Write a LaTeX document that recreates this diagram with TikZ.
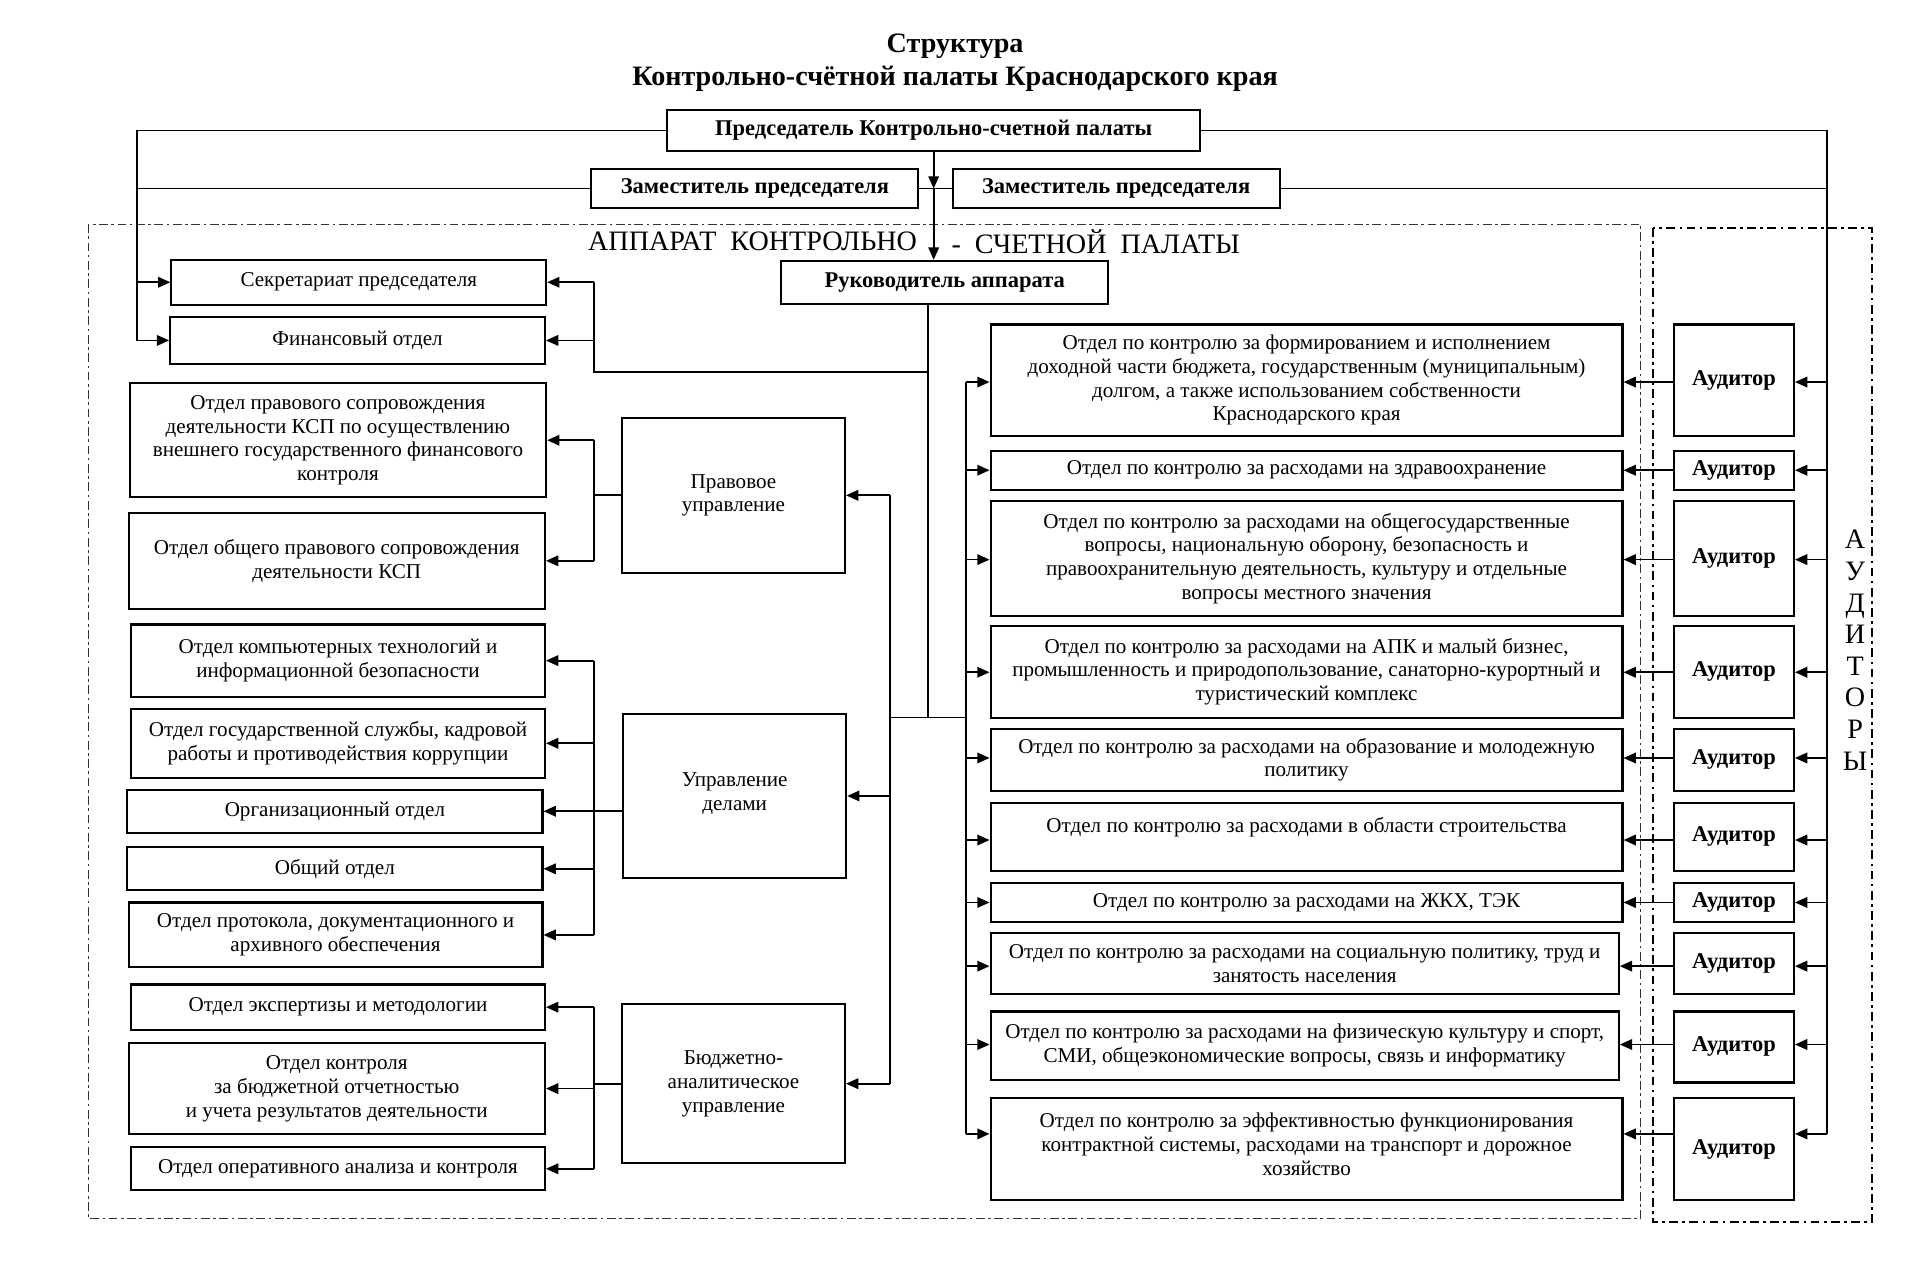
\documentclass[tikz,border=0pt]{standalone}
\usepackage{fontspec}
\setmainfont{Liberation Serif}
\usetikzlibrary{arrows.meta, positioning}

\tikzset{
  box/.style={draw, line width=1.2pt, inner sep=0pt, align=center, font=\fontsize{12}{13.5}\selectfont},
  hbox/.style={box, font=\bfseries\fontsize{12.8}{14}\selectfont},
  area/.style args={#1/#2/#3/#4}{at={({(#1+#3)*0.5},{(#2+#4)*0.5})},
    minimum width={(#3-#1)*0.02449cm}, minimum height={(#4-#2)*0.02449cm}},
  link/.style={line width=1pt},
  arr/.style={link, -{Triangle[length=7pt, width=6pt]}},
  dashframe/.style={line width=0.6pt, black!80, dash pattern=on 5pt off 2pt on 1.5pt off 2pt},
  audframe/.style={line width=0.9pt, dash pattern=on 5pt off 2.5pt on 1.5pt off 2.5pt},
}

\begin{document}
\begin{tikzpicture}[x=0.02449cm, y=-0.02449cm]
\useasboundingbox (0,0) rectangle (1568,1043);

% title
\node[font=\bfseries\fontsize{16}{18}\selectfont] (title1) at (780,38) {Структура};
\node[font=\bfseries\fontsize{16}{18}\selectfont] (title2) at (780,64) {Контрольно-счётной палаты Краснодарского края};

% chairman and deputies
\node[hbox, area=545/90/980/123] (chair) {Председатель Контрольно-счетной палаты};
\node[hbox, area=483/138/750/170] (dep1) {Заместитель председателя};
\node[hbox, area=778/138/1045/170] (dep2) {Заместитель председателя};

% frames
\draw[dashframe] (72,183) rectangle (1340,995);
\draw[audframe] (1350,186) rectangle (1529,998);
\node[anchor=east, font=\fontsize{16}{17}\selectfont] (app1) at (754,197) {АППАРАТ\ \ КОНТРОЛЬНО};
\node[anchor=west, font=\fontsize{16}{17}\selectfont] (app2) at (772,197) {-\ \ СЧЕТНОЙ\ \ ПАЛАТЫ};
\node[align=center, font=\fontsize{16}{18}\selectfont] (audlabel) at (1515,531) {А\\У\\Д\\И\\Т\\О\\Р\\Ы};

\node[hbox, area=638/213/905/248] (head) {Руководитель аппарата};

% left column
\node[box, area=140/212/446/249] (secr) {Секретариат председателя};
\node[box, area=139/259/445/297] (fin) {Финансовый отдел};

\node[box, area=106/313/446/406] (law1) {Отдел правового сопровождения\\деятельности КСП по осуществлению\\внешнего государственного финансового\\контроля};
\node[box, area=105/419/445/497] (law2) {Отдел общего правового сопровождения\\деятельности КСП};
\node[box, area=508/341/690/468] (lawm) {Правовое\\управление};

\node[box, area=107/510/445/569] (adm1) {Отдел компьютерных технологий и\\информационной безопасности};
\node[box, area=107/579/445/635] (adm2) {Отдел государственной службы, кадровой\\работы и противодействия коррупции};
\node[box, area=104/645/443/680] (adm3) {Организационный отдел};
\node[box, area=104/692/443/727] (adm4) {Общий отдел};
\node[box, area=105/737/443/790] (adm5) {Отдел протокола, документационного и\\архивного обеспечения};
\node[box, area=509/583/691/717] (admm) {Управление\\делами\\[-8.5pt]\mbox{}};

\node[box, area=107/804/445/841] (bud1) {Отдел экспертизы и методологии};
\node[box, area=105/852/445/926] (bud2) {Отдел контроля\\за бюджетной отчетностью\\и учета результатов деятельности};
\node[box, area=107/937/445/972] (bud3) {Отдел оперативного анализа и контроля};
\node[box, area=508/820/690/950] (budm) {Бюджетно-\\аналитическое\\управление};

% right column
\node[box, area=809/265/1325/356] (ctl1) {Отдел по контролю за формированием и исполнением\\доходной части бюджета, государственным (муниципальным)\\долгом, а также использованием собственности\\Краснодарского края};
\node[box, area=809/368/1325/400] (ctl2) {Отдел по контролю за расходами на здравоохранение};
\node[box, area=809/409/1325/503] (ctl3) {Отдел по контролю за расходами на общегосударственные\\вопросы, национальную оборону, безопасность и\\правоохранительную деятельность, культуру и отдельные\\вопросы местного значения};
\node[box, area=809/511/1325/586] (ctl4) {Отдел по контролю за расходами на АПК и малый бизнес,\\промышленность и природопользование, санаторно-курортный и\\туристический комплекс};
\node[box, area=809/595/1325/646] (ctl5) {Отдел по контролю за расходами на образование и молодежную\\политику};
\node[box, area=809/656/1325/711] (ctl6) {Отдел по контролю за расходами в области строительства\\\mbox{}};
\node[box, area=809/721/1325/753] (ctl7) {Отдел по контролю за расходами на ЖКХ, ТЭК};
\node[box, area=809/762/1322/812] (ctl8) {Отдел по контролю за расходами на социальную политику, труд и\\занятость населения};
\node[box, area=809/826/1322/882] (ctl9) {Отдел по контролю за расходами на физическую культуру и спорт,\\СМИ, общеэкономические вопросы, связь и информатику};
\node[box, area=809/897/1325/980] (ctl10) {Отдел по контролю за эффективностью функционирования\\контрактной системы, расходами на транспорт и дорожное\\хозяйство\\[-8pt]\mbox{}};

% auditors
\foreach \i/\ya/\yb in {1/265/356, 2/368/400, 3/409/503, 4/511/586, 5/595/646,
    6/656/711, 7/721/753, 8/762/812, 9/826/884, 10/897/980}
  \node[hbox, area=1367/\ya/1465/\yb] (a\i) {Аудитор};

% buses
\coordinate (lb) at (112,0);
\coordinate (rb) at (1492,0);
\coordinate (cb) at (758,0);
\coordinate (sb) at (485,304);
\coordinate (hub) at (758,586);
\coordinate (lbus) at (727,0);
\coordinate (rbus) at (789,0);
\coordinate (gb) at (485,0);

% chairman links
\draw[arr] (chair.west) -| (lb |- fin.west) -- (fin.west);
\draw[arr] (lb |- secr.west) -- (secr.west);
\draw[link] (dep1.west) -- (lb |- dep1.west);
\draw[link] (dep1.east) -- (dep2.west);
\draw[link] (dep2.east) -- (rb |- dep2.east);
\draw[arr] (chair.south) -- (chair.south |- dep1.east);
\draw[arr] (chair.south |- dep1.east) -- (chair.south |- head.north);

% head of staff links
\draw[link] (cb |- head.south) -- (hub);
\draw[link] (cb |- sb) -- (sb) -- (sb |- secr.east);
\draw[arr] (sb |- secr.east) -- (secr.east);
\draw[arr] (sb |- fin.east) -- (fin.east);
\draw[link] (lbus |- hub) -- (rbus |- hub);
\draw[link] (lbus |- lawm.east) -- (lbus |- budm.east);
\foreach \m in {lawm, admm, budm}
  \draw[arr] (lbus |- \m.east) -- (\m.east);

% departments of the three directorates
\draw[link] (lawm.west) -- (gb |- lawm.west);
\draw[link] (gb |- law1.east) -- (gb |- law2.east);
\foreach \n in {law1, law2}
  \draw[arr] (gb |- \n.east) -- (\n.east);
\draw[link] (admm.west |- adm3.east) -- (gb |- adm3.east);
\draw[link] (gb |- adm1.east) -- (gb |- adm5.east);
\foreach \k in {1,...,5}
  \draw[arr] (gb |- adm\k.east) -- (adm\k.east);
\draw[link] (budm.west) -- (gb |- budm.west);
\draw[link] (gb |- bud1.east) -- (gb |- bud3.east);
\foreach \k in {1,2,3}
  \draw[arr] (gb |- bud\k.east) -- (bud\k.east);

% control departments and auditors
\foreach \i/\y in {1/312, 2/384, 3/457, 4/549, 5/619, 6/686, 7/737, 8/789, 9/853, 10/926} {
  \coordinate (row\i) at (0,\y);
  \draw[arr] (rbus |- row\i) -- (ctl\i.west |- row\i);
  \draw[arr] (a\i.west |- row\i) -- (ctl\i.east |- row\i);
  \draw[arr] (rb |- row\i) -- (a\i.east |- row\i);
}
\draw[link] (rbus |- row1) -- (rbus |- row10);
\draw[link] (chair.east) -| (rb |- row10);
\end{tikzpicture}
\end{document}
